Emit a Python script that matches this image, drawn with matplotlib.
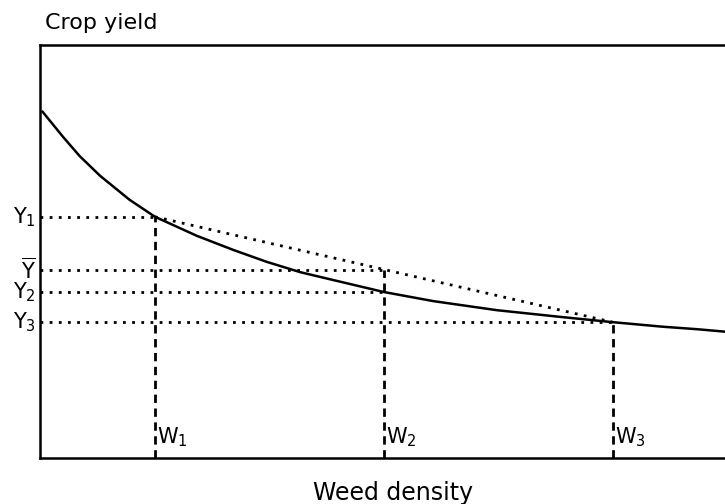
import matplotlib.pyplot as plt

# yield curve (weed density vs crop yield, arbitrary units)
density = [0.04, 0.34, 0.58, 0.88, 1.31, 1.68, 2.29, 2.82, 3.31, 3.80, 4.28,
           5.02, 5.74, 6.67, 7.64, 8.36, 9.09, 9.59, 10.0]
yield_ = [8.38, 7.77, 7.31, 6.83, 6.25, 5.84, 5.38, 5.04, 4.75, 4.50, 4.31,
          4.02, 3.80, 3.58, 3.41, 3.29, 3.18, 3.12, 3.06]

w_vals = [1.68, 5.02, 8.36]
w_labels = ['$\\mathregular{W_1}$', '$\\mathregular{W_2}$', '$\\mathregular{W_3}$']
y1, y2, y3 = 5.84, 4.02, 3.29
y_bar = 4.56

fig = plt.figure(figsize=(7.25, 5.04), dpi=100)
ax = fig.add_axes([0.055, 0.091, 0.945, 0.82])
ax.set_xlim(0, 10)
ax.set_ylim(0, 10)
ax.set_xticks([])
ax.set_yticks([])
ax.spines['right'].set_visible(False)
for s in ['left', 'top', 'bottom']:
    ax.spines[s].set_linewidth(1.8)

ax.plot(density, yield_, color='black', lw=1.8, clip_on=False,
        solid_joinstyle='round')

dot = (0, (1, 2.3))
dash = (0, (3, 2))
# horizontal dotted guides
for yv, wv in [(y1, w_vals[0]), (y_bar, w_vals[1]), (y2, w_vals[1]), (y3, w_vals[2])]:
    ax.plot([0, wv], [yv, yv], color='black', lw=2, ls=dot)
# chord between W1 and W3
ax.plot([w_vals[0], w_vals[2]], [y1, y3], color='black', lw=2, ls=dot)

# vertical dashed guides
for wv, top in zip(w_vals, [y1, y_bar, y3]):
    ax.plot([wv, wv], [0, top], color='black', lw=2, ls=dash)

for wv, lab in zip(w_vals, w_labels):
    ax.text(wv + 0.03, 0.5, lab, fontsize=15, ha='left', va='center')

ylabs = [(y1, '$\\mathregular{Y_1}$'), (y_bar, '$\\overline{\\mathregular{Y}}$'),
         (y2, '$\\mathregular{Y_2}$'), (y3, '$\\mathregular{Y_3}$')]
for yv, lab in ylabs:
    ax.text(-0.06, yv, lab, fontsize=15, ha='right', va='center', clip_on=False)

fig.text(0.062, 0.955, 'Crop yield', fontsize=16, ha='left', va='center')
fig.text(0.542, 0.022, 'Weed density', fontsize=17, ha='center', va='center')

fig.savefig('out.png', dpi=100)
